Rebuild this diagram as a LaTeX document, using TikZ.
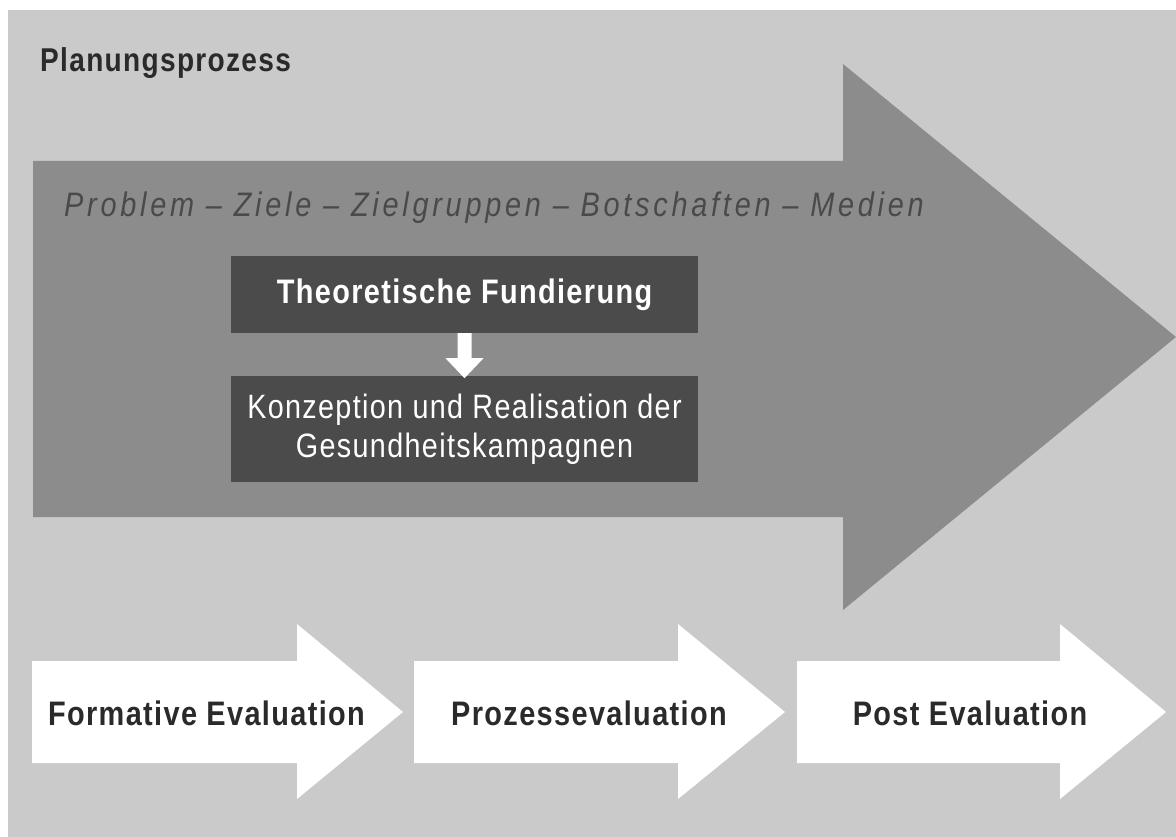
\documentclass[tikz,border=0pt]{standalone}
\usepackage{fontspec}
\setmainfont{Liberation Sans}[FakeStretch=0.85,LetterSpace=4]
\newfontfamily\widefont{Liberation Sans}[FakeStretch=0.85,LetterSpace=11]
\definecolor{bgc}{HTML}{CACACA}
\definecolor{bigc}{HTML}{8C8C8C}
\definecolor{boxc}{HTML}{4B4B4B}
\definecolor{txtc}{HTML}{2A2A2A}
\tikzset{
  darkbox/.style={fill=boxc, text=white, minimum width=467pt, inner sep=0pt, align=center},
  whitearrow/.style={fill=white},
  label/.style={inner sep=0pt, text=txtc},
}
\begin{document}
\begin{tikzpicture}[x=1pt,y=-1pt]
\useasboundingbox (0,0) rectangle (1176,837);
\fill[bgc] (8,10) rectangle (1176,837);
% big process arrow
\fill[bigc] (33,161) -- (843,161) -- (843,64) -- (1176,337) -- (843,610) -- (843,517) -- (33,517) -- cycle;
\node[label, anchor=base west, font=\fontsize{33}{36}\selectfont\bfseries] (title) at (40,72) {Planungsprozess};
\node[label, anchor=base west, text=txtc!85!white, font=\widefont\fontsize{34}{38}\selectfont\itshape] (steps) at (64,217) {Problem – Ziele – Zielgruppen – Botschaften – Medien};
\node[darkbox, minimum height=77pt, font=\fontsize{34}{38}\selectfont\bfseries] (tf) at (464.5,294.5) {Theoretische Fundierung};
\node[darkbox, minimum height=106pt, font=\fontsize{33.8}{39}\selectfont] (kr) at (464.5,429) {Konzeption und Realisation der\\Gesundheitskampagnen};
\fill[whitearrow] (tf.south) ++(-7,0) -- ++(0,25) -- ++(-12,0) -- ++(19,20) -- ++(19,-20) -- ++(-12,0) -- ++(0,-25) -- cycle;
% evaluation arrows
\foreach \L/\H/\T in {32/297/403, 414/678/785, 797/1060/1166}{
  \fill[whitearrow] (\L,661) -- (\H,661) -- (\H,624) -- (\T,712) -- (\H,799) -- (\H,763) -- (\L,763) -- cycle;
}
\node[label, anchor=base, font=\fontsize{34}{38}\selectfont\bfseries] (fe) at (206.5,725) {Formative Evaluation};
\node[label, anchor=base, font=\fontsize{34}{38}\selectfont\bfseries] (pe) at (589,725) {Prozessevaluation};
\node[label, anchor=base, font=\fontsize{34}{38}\selectfont\bfseries] (po) at (970,725) {Post Evaluation};
\end{tikzpicture}
\end{document}
